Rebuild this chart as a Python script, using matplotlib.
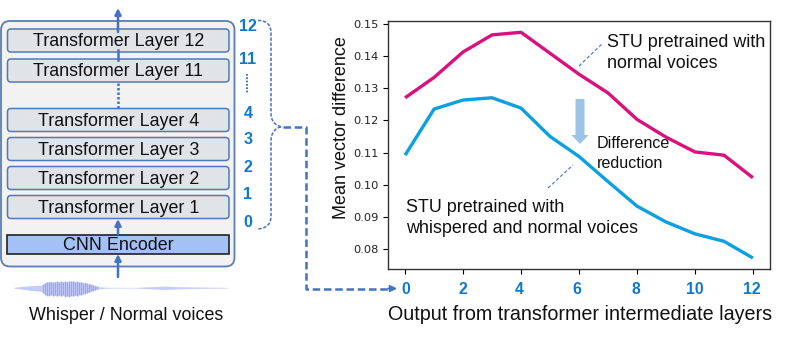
import matplotlib
matplotlib.use("Agg")
import matplotlib.pyplot as plt
from matplotlib.patches import FancyBboxPatch, PathPatch, Rectangle
from matplotlib.path import Path

plt.rcParams['font.family'] = ['Liberation Sans', 'DejaVu Sans']

layers = [0, 1, 2, 3, 4, 5, 6, 7, 8, 9, 10, 11, 12]
normal_voices = [0.127, 0.1333, 0.1412, 0.1465, 0.1473, 0.1408, 0.1343, 0.1285, 0.1203, 0.1148, 0.1102, 0.1092, 0.1022]
whisper_normal = [0.1092, 0.1235, 0.1263, 0.127, 0.1238, 0.115, 0.1088, 0.101, 0.0934, 0.0885, 0.0848, 0.0825, 0.0773]
x_ticks = [0, 2, 4, 6, 8, 10, 12]
y_ticks = [0.08, 0.09, 0.10, 0.11, 0.12, 0.13, 0.14, 0.15]
transformer_labels = ["Transformer Layer 12", "Transformer Layer 11", "Transformer Layer 4",
                      "Transformer Layer 3", "Transformer Layer 2", "Transformer Layer 1"]
layer_numbers = ["12", "11", "4", "3", "2", "1", "0"]
wave_x = [14, 18, 22, 26, 30, 34, 38, 41, 43, 45, 47, 49, 51, 53, 55, 57, 59, 61, 63, 65, 67, 69, 71, 73, 75,
          77, 79, 81, 83, 85, 87, 89, 91, 93, 95, 97, 99, 102, 105, 110, 120, 135, 148, 155, 165, 175, 190, 205, 228]
wave_up = [0.4, 0.8, 1.2, 1.6, 2, 2.2, 2.4, 2.6, 3.5, 5, 5.8, 6, 6.2, 5.6, 6, 6.4, 5.8, 6.6, 5.8, 6.8, 6.2, 7,
           6.4, 6.8, 6, 6.6, 5.6, 6, 5, 5.2, 4.4, 4.2, 3.4, 3, 2.2, 1.6, 1, 0.7, 0.5, 0.4, 0.3, 0.3, 0.9, 1.1, 1.6,
           1.1, 0.8, 0.6, 0.3]
wave_down = [0.4, 0.9, 1.4, 2, 2.6, 3, 3.2, 3.6, 5, 7, 7.8, 8, 7, 8.4, 7.4, 8.6, 7.6, 8.6, 7.4, 9, 8, 9, 7.8,
             8.6, 7.4, 8.2, 7, 7.4, 6, 6, 5, 4.6, 3.6, 3, 2.2, 1.6, 1, 0.7, 0.5, 0.4, 0.3, 0.3, 1, 1.3, 1.8,
             1.2, 0.8, 0.6, 0.3]

W, H = 789, 338
BLUE = "#4472C4"
NUM = "#0F78CC"
fig = plt.figure(figsize=(W / 100, H / 100), dpi=100)

ax = fig.add_axes([387.7 / W, 1 - 269 / H, 382.6 / W, 248.3 / H])
ax.plot(layers, normal_voices, color="#D9107E", lw=2.4, solid_capstyle="butt")
ax.plot(layers, whisper_normal, color="#0AA0E2", lw=2.4, solid_capstyle="butt")
ax.set_xlim(-0.6, 12.6)
ax.set_ylim(0.0739, 0.1509)
ax.set_xticks(x_ticks)
ax.set_xticklabels([])
ax.set_yticks(y_ticks)
ax.set_yticklabels([f"{v:.2f}" for v in y_ticks], family="DejaVu Sans", fontsize=8.2, color="#222222")
ax.tick_params(length=3.5, width=0.8, pad=3)
for s in ax.spines.values():
    s.set_linewidth(1.0)
    s.set_color("#333333")
ax.set_ylabel("Mean vector difference", fontsize=13, color="#111111")
ax.yaxis.set_label_coords((350 - 387.7) / 382.6, (269 - 127.7) / 248.3)

ov = fig.add_axes([0, 0, 1, 1], facecolor="none")
ov.set_xlim(0, W)
ov.set_ylim(H, 0)
ov.axis("off")
ov.set_zorder(5)


def arrow(x, y0, y1, lw=1.8):
    ov.annotate("", xy=(x, y1), xytext=(x, y0),
                arrowprops=dict(arrowstyle="-|>,head_width=0.18,head_length=0.36", color=BLUE, lw=lw,
                                shrinkA=0, shrinkB=0))


ov.add_patch(FancyBboxPatch((1, 21), 233.5, 245.5, boxstyle="round,pad=0,rounding_size=9",
                            fc="#F2F2F2", ec="#5B7DB5", lw=1.3))
arrow(118, 32, 8)
ov.plot([118, 118], [50, 60], color=BLUE, lw=1.8)
ov.plot([118, 118], [83, 108], color=BLUE, lw=1.8, ls=(0, (1, 0.8)))

box_tops = [29, 59, 108.5, 137.5, 166.5, 195.5]
for top, lab in zip(box_tops, transformer_labels):
    ov.add_patch(FancyBboxPatch((7.5, top), 221.5, 23, boxstyle="round,pad=0,rounding_size=3.5",
                                fc="#E1E4E6", ec="#4F79B8", lw=1.1))
    ov.text(118.5, top + 12.8, lab, ha="center", va="center", fontsize=12.9, color="#111111")

ov.add_patch(Rectangle((7.5, 234.5), 222, 19.5, fc="#A3C1F5", ec="#222222", lw=1.2))
ov.text(118, 245.5, "CNN Encoder", ha="center", va="center", fontsize=12.9, color="#111111")
arrow(118, 234, 219)
arrow(118, 277, 254)

centre = 287.7
ov.fill_between(wave_x, [centre - u for u in wave_up], [centre + d for d in wave_down],
                color="#B6BFF8", alpha=0.8, lw=0)
ov.vlines(wave_x[8:36], [centre - u for u in wave_up[8:36]], [centre + d for d in wave_down[8:36]],
          color="#7C8BF2", lw=0.8, alpha=0.6)

ov.text(126, 316, "Whisper / Normal voices", ha="center", va="center", fontsize=12.9, color="#111111")

num_y = [26.5, 59, 113, 139.5, 167, 194.5, 222.5]
for y, n in zip(num_y, layer_numbers):
    ov.text(248, y, n, ha="center", va="center", fontsize=11.5, color=NUM, fontweight="bold")
ov.plot([247.5, 247.5], [74, 93], color=BLUE, lw=1.5, ls=(0, (0.8, 0.8)))

upper = Path([(258, 20.5), (267, 20.5), (271, 25), (271, 33), (271, 113), (271, 122), (276, 126), (283, 127)],
             [Path.MOVETO, Path.CURVE4, Path.CURVE4, Path.CURVE4, Path.LINETO, Path.CURVE4, Path.CURVE4, Path.CURVE4])
lower = Path([(281, 127), (275, 128), (271, 133), (271, 141), (271, 216), (271, 224), (267, 228), (258, 229)],
             [Path.MOVETO, Path.CURVE4, Path.CURVE4, Path.CURVE4, Path.LINETO, Path.CURVE4, Path.CURVE4, Path.CURVE4])
for p in (upper, lower):
    ov.add_patch(PathPatch(p, fc="none", ec=BLUE, lw=1.1, ls=(0, (2.2, 1.1))))
ov.plot([283, 306, 306, 392], [127, 127, 288.5, 288.5], color=BLUE, lw=1.8, ls=(0, (3, 1.5)))
ov.annotate("", xy=(397, 288.5), xytext=(388, 288.5),
            arrowprops=dict(arrowstyle="-|>,head_width=0.2,head_length=0.4", color=BLUE, lw=1.2, shrinkA=0, shrinkB=0))

for t, v in zip(x_ticks, [405.5, 463, 519, 577, 636, 695, 752]):
    ov.text(v, 289, str(t), ha="center", va="center", fontsize=11.3, color=NUM, fontweight="bold")
ov.text(580.5, 314.5, "Output from transformer intermediate layers", ha="center", va="center",
        fontsize=14.25, color="#111111")

ov.text(607, 42.5, "STU pretrained with", ha="left", va="center", fontsize=12.9, color="#111111")
ov.text(607, 64, "normal voices", ha="left", va="center", fontsize=12.9, color="#111111")
ov.text(406, 207.5, "STU pretrained with", ha="left", va="center", fontsize=12.9, color="#111111")
ov.text(406, 228.5, "whispered and normal voices", ha="left", va="center", fontsize=12.9, color="#111111")
ov.text(597, 144, "Difference", ha="left", va="center", fontsize=11.6, color="#111111")
ov.text(597, 163, "reduction", ha="left", va="center", fontsize=11.6, color="#111111")
ov.plot([579, 603], [66, 43], color=BLUE, lw=0.8, ls=(0, (3, 2)))
ov.plot([548, 573], [188, 165], color=BLUE, lw=0.8, ls=(0, (3, 2)))
ov.annotate("", xy=(580, 144), xytext=(580, 99),
            arrowprops=dict(width=6.5, headwidth=12.5, headlength=6.5, color="#9DC3E6", lw=0, shrinkA=0, shrinkB=0))

fig.savefig("out.png", dpi=100)
